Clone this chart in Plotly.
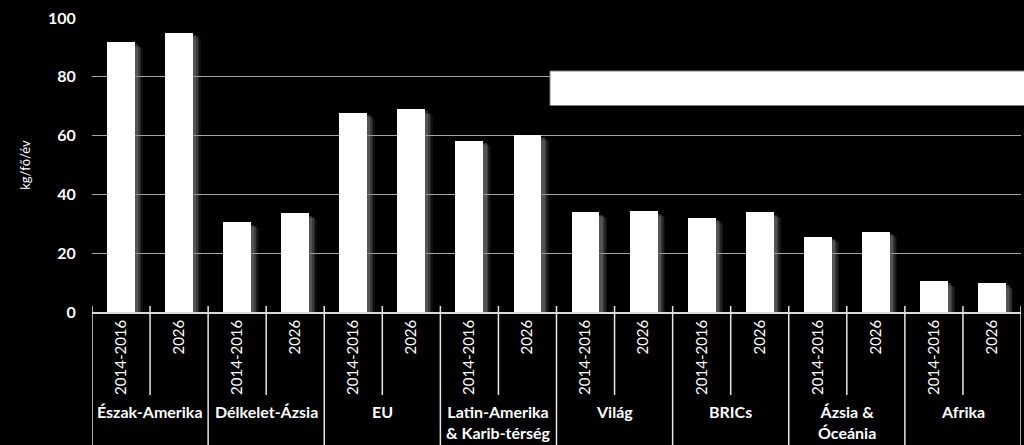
import plotly.graph_objects as go

regions = ["Észak-Amerika", "Délkelet-Ázsia", "EU", "Latin-Amerika<br>& Karib-térség",
           "Világ", "BRICs", "Ázsia &<br>Óceánia", "Afrika"]
periods = ["2014-2016", "2026"]
v_2014_2016 = [91.8, 30.5, 67.8, 58.3, 33.9, 32.1, 25.6, 10.5]
v_2026 = [95.0, 33.6, 69.0, 60.2, 34.2, 33.9, 27.3, 9.9]
y_ticks = [0, 20, 40, 60, 80, 100]

values = []
labels = []
for a, b in zip(v_2014_2016, v_2026):
    values += [a, b]
    labels += periods
xs = list(range(len(values)))

fig = go.Figure()
# soft shadows (approximate blur with stacked translucent bars)
for off, op, drop in [(0.13, 0.10, 2.0), (0.105, 0.16, 1.6), (0.08, 0.24, 1.2), (0.055, 0.32, 0.8)]:
    fig.add_trace(go.Bar(x=[x + off for x in xs], y=[v - drop for v in values], width=0.48,
                         marker=dict(color=f"rgba(140,140,140,{op})", line=dict(width=0)),
                         hoverinfo="skip", showlegend=False))
fig.add_trace(go.Bar(x=xs, y=values, width=0.48,
                     marker=dict(color="white", line=dict(width=0)), showlegend=False))

shapes = []
H = 294.0
for k in range(len(regions) + 1):
    xb = -0.5 + 2 * k
    shapes.append(dict(type="line", xref="x", yref="paper", x0=xb, x1=xb,
                       y0=6 / H, y1=-133 / H, line=dict(color="#e6e6e6", width=1.5)))
for k in range(len(regions)):
    xi = 0.5 + 2 * k
    shapes.append(dict(type="line", xref="x", yref="paper", x0=xi, x1=xi,
                       y0=6 / H, y1=-83 / H, line=dict(color="#e6e6e6", width=1.5)))
# blank white box (legend area)
shapes.append(dict(type="rect", xref="paper", yref="paper",
                   x0=(550 - 92) / 929.0, x1=(1026 - 92) / 929.0,
                   y0=(312 - 105.5) / H, y1=(312 - 71) / H,
                   fillcolor="white", line=dict(color="#808080", width=1)))

annotations = []
for k, r in enumerate(regions):
    annotations.append(dict(x=0.5 + 2 * k, xref="x", y=-88 / H, yref="paper",
                            text=r, showarrow=False, xanchor="center", yanchor="top",
                            font=dict(family="Lato", size=16, color="white", weight="bold")))

fig.update_layout(
    width=1024, height=445,
    margin=dict(l=92, r=3, t=18, b=133),
    paper_bgcolor="black", plot_bgcolor="black",
    barmode="overlay", bargap=0,
    shapes=shapes, annotations=annotations,
    font=dict(family="Lato", color="white"),
    xaxis=dict(range=[-0.5, 15.5], tickvals=xs, ticktext=labels, tickangle=-90,
               showgrid=False, zeroline=False, showline=True, linecolor="#d9d9d9", linewidth=1.5,
               ticks="", tickfont=dict(family="Lato", size=15, color="white")),
    yaxis=dict(range=[0, 100], tickvals=y_ticks, showgrid=True, gridcolor="#a6a6a6", gridwidth=1,
               zeroline=False, showline=False, ticks="outside", ticklen=12, tickcolor="black",
               tickfont=dict(family="Lato", size=16, color="white", weight="bold"),
               title=dict(text="kg/fő/év", font=dict(family="Lato", size=13, color="white"),
                          standoff=14)),
)

fig.write_html("out.html")
